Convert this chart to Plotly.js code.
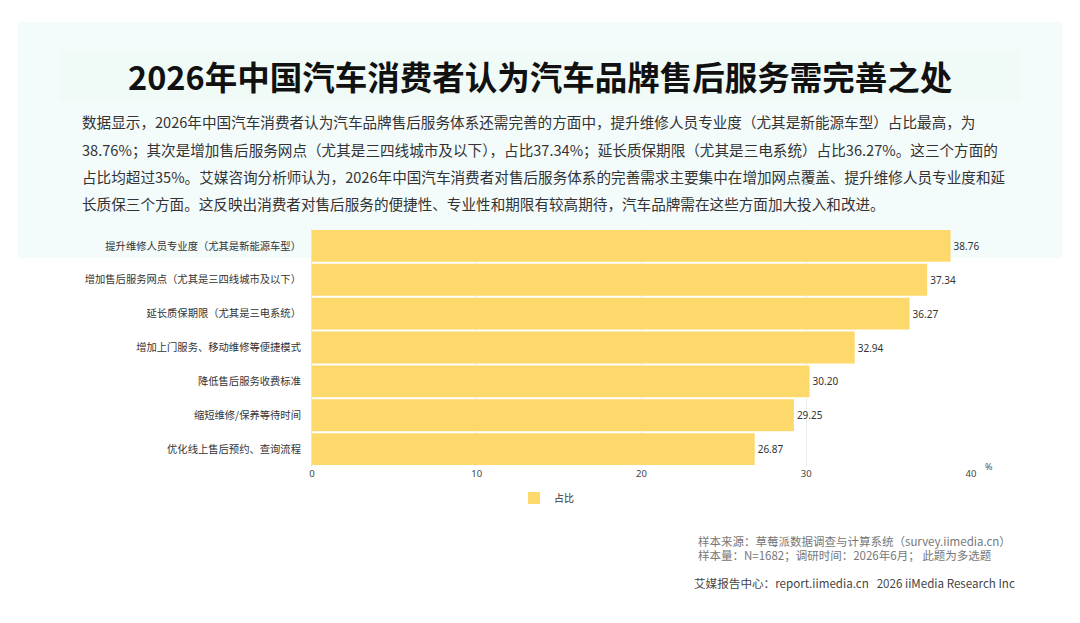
<!DOCTYPE html>
<html><head><meta charset="utf-8">
<script src="https://cdn.plot.ly/plotly-3.0.1.min.js"></script>
<style>html,body{margin:0;padding:0;background:#fff}#c{width:1080px;height:623px}</style>
</head><body><div id="c"></div>
<script>
const categories = [
  "提升维修人员专业度（尤其是新能源车型）",
  "增加售后服务网点（尤其是三四线城市及以下）",
  "延长质保期限（尤其是三电系统）",
  "增加上门服务、移动维修等便捷模式",
  "降低售后服务收费标准",
  "缩短维修/保养等待时间",
  "优化线上售后预约、查询流程"
];
const values = [38.76, 37.34, 36.27, 32.94, 30.20, 29.25, 26.87];
const valueLabels = ["38.76","37.34","36.27","32.94","30.20","29.25","26.87"];
const seriesName = "占比";
const tickVals = [0, 10, 20, 30, 40];
const titleText = "2026年中国汽车消费者认为汽车品牌售后服务需完善之处";
const paragraphLines = [
  "数据显示，2026年中国汽车消费者认为汽车品牌售后服务体系还需完善的方面中，提升维修人员专业度（尤其是新能源车型）占比最高，为",
  "38.76%；其次是增加售后服务网点（尤其是三四线城市及以下），占比37.34%；延长质保期限（尤其是三电系统）占比36.27%。这三个方面的",
  "占比均超过35%。艾媒咨询分析师认为，2026年中国汽车消费者对售后服务体系的完善需求主要集中在增加网点覆盖、提升维修人员专业度和延",
  "长质保三个方面。这反映出消费者对售后服务的便捷性、专业性和期限有较高期待，汽车品牌需在这些方面加大投入和改进。"
];
const sourceLines = [
  "样本来源：草莓派数据调查与计算系统（survey.iimedia.cn）",
  "样本量：N=1682；调研时间：2026年6月； 此题为多选题"
];
const footerText = "艾媒报告中心：report.iimedia.cn   2026 iiMedia Research Inc";

const Wd = 1080, Ht = 623;
const L = 312, R = 109, T = 229, B = 157;
const PW = Wd - L - R, PH = Ht - T - B;
const px = x => (x - L) / PW;
const py = y => 1 - (y - T) / PH;
const CJK = '"Noto Sans CJK SC", "Noto Sans", sans-serif';
const LAT = '"Noto Sans", "Noto Sans CJK SC", sans-serif';

const annotations = [];
annotations.push({xref:'paper', yref:'paper', x:px(540), y:py(75), xanchor:'center', yanchor:'middle',
  text:'<b>'+titleText+'</b>', showarrow:false, font:{family:CJK, size:32.5, color:'#111'}});
paragraphLines.forEach((t,i)=>{
  annotations.push({xref:'paper', yref:'paper', x:px(80), y:py(122+27*i), xanchor:'left', yanchor:'middle',
    text:t, showarrow:false, font:{family:CJK, size:14.6, color:'#333'}});
});
sourceLines.forEach((t,i)=>{
  annotations.push({xref:'paper', yref:'paper', x:px(696), y:py(541+14*i), xanchor:'left', yanchor:'middle',
    text:t, showarrow:false, font:{family:CJK, size:11.5, color:'#777'}});
});
annotations.push({xref:'paper', yref:'paper', x:px(692), y:py(583), xanchor:'left', yanchor:'middle',
  text:footerText, showarrow:false, font:{family:CJK, size:11.6, color:'#444'}});
annotations.push({xref:'paper', yref:'paper', x:px(989), y:py(466), xanchor:'center', yanchor:'middle',
  text:'%', showarrow:false, font:{family:LAT, size:9, color:'#555'}});

const data = [{
  type:'bar', orientation:'h', name:seriesName,
  x: values, y: categories,
  text: valueLabels, textposition:'outside', cliponaxis:false,
  textfont:{family:LAT, size:10, color:'#333'},
  marker:{color:'#fdd86b'},
  hoverinfo:'none'
}];

const layout = {
  width:Wd, height:Ht,
  margin:{l:L, r:R, t:T, b:B, pad:0},
  paper_bgcolor:'#ffffff', plot_bgcolor:'rgba(0,0,0,0)',
  showlegend:true,
  legend:{orientation:'h', x:px(514), y:py(498), xanchor:'left', yanchor:'middle',
    font:{family:CJK, size:10, color:'#333'}, bgcolor:'rgba(0,0,0,0)'},
  bargap:0.06,
  xaxis:{range:[0,40], tickvals:tickVals, ticktext:tickVals.map(String), showgrid:true, gridcolor:'#ececec', gridwidth:1,
    zeroline:false, showline:false, ticks:'', tickfont:{family:LAT, size:9.5, color:'#444'}, fixedrange:true},
  yaxis:{autorange:'reversed', showgrid:false, zeroline:false, showline:true, linecolor:'#e6e6e6', ticks:'',
    ticklabelstandoff:8, tickfont:{family:CJK, size:10.3, color:'#333'}, fixedrange:true},
  shapes:[
    {type:'rect', xref:'paper', yref:'paper', x0:px(18), x1:px(1062), y0:py(22), y1:py(258),
      fillcolor:'#f3fbfb', line:{width:0}, layer:'below'},
    {type:'rect', xref:'paper', yref:'paper', x0:px(60), x1:px(1020), y0:py(50), y1:py(100),
      fillcolor:'rgba(230,248,230,0.18)', line:{width:0}, layer:'below'}
  ],
  annotations: annotations
};
Plotly.newPlot('c', data, layout, {displayModeBar:false, staticPlot:true});
</script></body></html>
